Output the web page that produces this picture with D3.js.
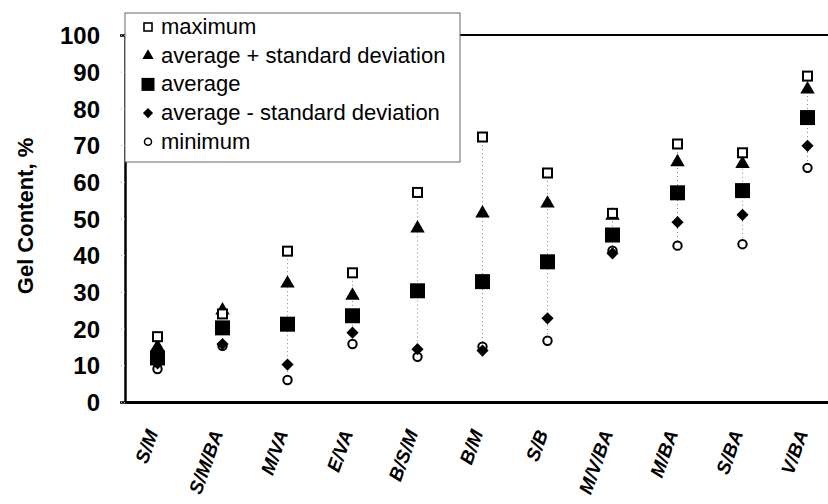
<!DOCTYPE html>
<html>
<head>
<meta charset="utf-8">
<script src="https://cdn.jsdelivr.net/npm/d3@7"></script>
<style>
  body { margin: 0; background: #fff; }
  svg { display: block; font-family: Arial, "Liberation Sans", sans-serif; }
</style>
</head>
<body>
<svg></svg>
<script>
let categories = ['S/M', 'S/M/BA', 'M/VA', 'E/VA', 'B/S/M', 'B/M', 'S/B', 'M/V/BA', 'M/BA', 'S/BA', 'V/BA'];
let maximum    = [17.8, 24.0, 41.1, 35.2, 57.1, 72.2, 62.4, 51.4, 70.3, 67.9, 88.8];
let avgPlusSd  = [15.0, 25.0, 32.3, 29.0, 47.3, 51.4, 54.1, 50.8, 65.4, 64.9, 85.2];
let average    = [12.0, 20.2, 21.2, 23.5, 30.3, 32.8, 38.2, 45.5, 57.0, 57.6, 77.5];
let avgMinusSd = [10.5, 15.8, 10.2, 18.9, 14.4, 14.0, 22.8, 40.5, 49.0, 51.0, 69.8];
let minimum    = [ 9.0, 15.3,  6.0, 15.8, 12.3, 15.1, 16.7, 41.2, 42.6, 43.0, 63.8];
let yTicks = [0, 10, 20, 30, 40, 50, 60, 70, 80, 90, 100];
let legendLabels = ['maximum', 'average + standard deviation', 'average', 'average - standard deviation', 'minimum'];

let width = 828;
let height = 504;

let svg = d3.select('svg')
  .attr('width', width)
  .attr('height', height)

let xScale = d3.scaleBand()
  .domain(categories)
  .range([125, 840])

let yScale = d3.scaleLinear()
  .domain([0, 100])
  .range([402, 35])

let cx = (i) => xScale(categories[i]) + xScale.bandwidth() / 2;

// marker drawers, shared by plot and legend
let markers = [
  (g, x, y) => g.append('rect').attr('x', x - 4.5).attr('y', y - 4.5).attr('width', 9).attr('height', 9)
                .attr('fill', '#fff').attr('stroke', '#000').attr('stroke-width', 2),
  (g, x, y) => g.append('path').attr('d', d3.symbol(d3.symbolTriangle, 90)())
                .attr('transform', `translate(${x},${y})`).attr('fill', '#000'),
  (g, x, y) => g.append('rect').attr('x', x - 7.5).attr('y', y - 7.5).attr('width', 15).attr('height', 15)
                .attr('fill', '#000'),
  (g, x, y) => g.append('rect').attr('x', -4.3).attr('y', -4.3).attr('width', 8.6).attr('height', 8.6)
                .attr('transform', `translate(${x},${y}) rotate(45)`).attr('fill', '#000'),
  (g, x, y) => g.append('circle').attr('cx', x).attr('cy', y).attr('r', 4.2)
                .attr('fill', '#fff').attr('stroke', '#000').attr('stroke-width', 2)
];

let series = [maximum, avgPlusSd, average, avgMinusSd, minimum];

// frame
svg.append('line')
  .attr('x1', 125).attr('x2', width).attr('y1', yScale(100)).attr('y2', yScale(100))
  .attr('stroke', '#000').attr('stroke-width', 2)

// y axis
let yAxis = d3.axisLeft(yScale).tickValues(yTicks).tickSize(5).tickPadding(20).tickFormat(d3.format('d'));
let yg = svg.append('g')
  .attr('transform', 'translate(125,0)')
  .call(yAxis)
yg.select('.domain').attr('stroke', '#000').attr('stroke-width', 2.5)
yg.selectAll('.tick line').attr('stroke', '#aaa').attr('stroke-dasharray', '1,2')
yg.selectAll('.tick text')
  .attr('fill', '#000')
  .style('font-size', '24px')
  .style('font-weight', 'bold')
  .attr('dy', '0.36em')

// x axis
let xAxis = d3.axisBottom(xScale).tickSize(0).tickPadding(0);
let xg = svg.append('g')
  .attr('transform', 'translate(0,402)')
  .call(xAxis)
xg.select('.domain').attr('stroke', '#000').attr('stroke-width', 3)
xg.selectAll('.tick text')
  .attr('fill', '#000')
  .attr('y', 0)
  .attr('dy', 0)
  .attr('text-anchor', 'end')
  .attr('transform', 'translate(1,31) rotate(-70)')
  .style('font-size', '19px')
  .style('font-weight', 'bold')
  .style('font-style', 'italic')

// y title
svg.append('text')
  .attr('transform', 'translate(33,216) rotate(-90)')
  .attr('text-anchor', 'middle')
  .style('font-size', '22px')
  .style('font-weight', 'bold')
  .text('Gel Content, %')

// dotted range lines
svg.selectAll('.range')
  .data(categories)
  .enter()
  .append('line')
  .attr('class', 'range')
  .attr('x1', (d, i) => cx(i)).attr('x2', (d, i) => cx(i))
  .attr('y1', (d, i) => yScale(maximum[i])).attr('y2', (d, i) => yScale(minimum[i]))
  .attr('stroke', '#888').attr('stroke-width', 1).attr('stroke-dasharray', '1,3')

// points: draw from bottom series up so maximum sits on top like the original
let pts = svg.append('g');
[4, 3, 2, 1, 0].forEach((s) => {
  series[s].forEach((v, i) => {
    markers[s](pts, cx(i), yScale(v));
  })
})

// legend
let lg = svg.append('g');
lg.append('rect')
  .attr('x', 125).attr('y', 13).attr('width', 335).attr('height', 149)
  .attr('fill', '#fff').attr('stroke', '#666').attr('stroke-width', 1)

let legendMarkers = [
  (g, x, y) => g.append('rect').attr('x', x - 4).attr('y', y - 4).attr('width', 8).attr('height', 8)
                .attr('fill', '#fff').attr('stroke', '#000').attr('stroke-width', 1.6),
  (g, x, y) => g.append('path').attr('d', d3.symbol(d3.symbolTriangle, 55)())
                .attr('transform', `translate(${x},${y})`).attr('fill', '#000'),
  (g, x, y) => g.append('rect').attr('x', x - 6.5).attr('y', y - 6.5).attr('width', 13).attr('height', 13)
                .attr('fill', '#000'),
  (g, x, y) => g.append('rect').attr('x', -3.6).attr('y', -3.6).attr('width', 7.2).attr('height', 7.2)
                .attr('transform', `translate(${x},${y}) rotate(45)`).attr('fill', '#000'),
  (g, x, y) => g.append('circle').attr('cx', x).attr('cy', y).attr('r', 3.5)
                .attr('fill', '#fff').attr('stroke', '#000').attr('stroke-width', 1.5)
];

legendLabels.forEach((label, i) => {
  let base = 34 + i * 28.7;
  legendMarkers[i](lg, 148, base - 7);
  lg.append('text')
    .attr('x', 161)
    .attr('y', base)
    .style('font-size', '22px')
    .text(label)
})
</script>
</body>
</html>
